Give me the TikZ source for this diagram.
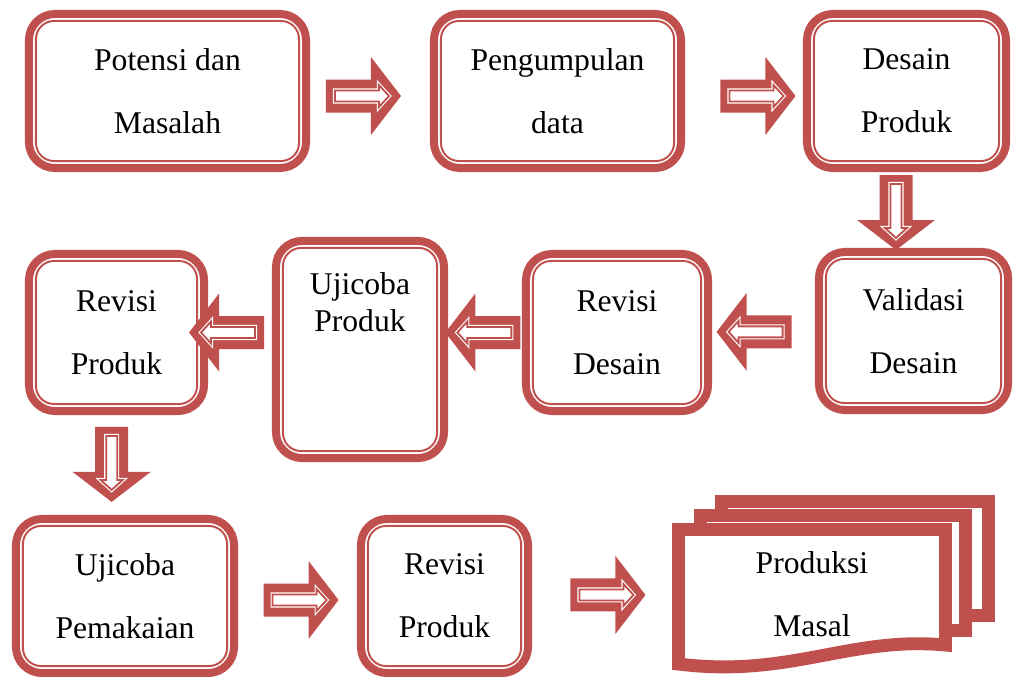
\documentclass[tikz,border=0pt]{standalone}
\usepackage{fontspec}
\setmainfont{Liberation Serif}
\usetikzlibrary{calc}
\definecolor{accred}{HTML}{C0504D}
\tikzset{
  stagebox/.style={draw=accred, line width=5.7pt, outer sep=0pt, rounded corners=0.65cm, align=center,
    font=\fontsize{22.5}{45}\selectfont},
  stageline/.style={draw=accred, line width=1.4pt, rounded corners=0.45cm},
  page/.style={draw=accred, fill=white, line width=9.2pt},
  arrowcore/.style={fill=white, draw=white, line width=0.8pt, double=accred, double distance=1.3pt},
  blockarrow/.pic={
    \fill[accred] (-37,-16.5) -- (8,-16.5) -- (8,-39) -- (38,0) -- (8,39) -- (8,16.5) -- (-37,16.5) -- cycle;
    \draw[arrowcore] (-28,-5.5) -- (16,-5.5) -- (16,-11) -- (26,0) -- (16,11) -- (16,5.5) -- (-28,5.5) -- cycle;
  }
}
\begin{document}
\begin{tikzpicture}[x=0.025cm, y=-0.025cm]
  \useasboundingbox (0,0) rectangle (1015,677);
  % first row
  \node[stagebox, minimum width=6.925cm, minimum height=3.85cm] (pd) at (167.5,91) {Potensi dan\\Masalah};
  \node[stagebox, minimum width=6.175cm, minimum height=3.85cm] (pg) at (557.5,91) {Pengumpulan\\data};
  \node[stagebox, minimum width=4.975cm, minimum height=3.85cm] (dp) at (906.5,91) {Desain\\Produk};
  % second row
  \node[stagebox, minimum width=4.725cm, minimum height=3.95cm] (vd) at (913.5,331) {Validasi\\Desain};
  \node[stagebox, minimum width=4.55cm, minimum height=3.925cm] (rd) at (617,332.5) {Revisi\\Desain};
  \node[stagebox, minimum width=4.2cm, minimum height=5.425cm, font=\fontsize{22.5}{27}\selectfont,
    text height=1.5cm, text depth=2.375cm] (up) at (360,349.5) {Ujicoba\\Produk};
  \node[stagebox, minimum width=4.375cm, minimum height=3.925cm] (rp) at (116.5,332.5) {Revisi\\Produk};
  % third row
  \node[stagebox, minimum width=5.45cm, minimum height=3.85cm] (ua) at (125,596) {Ujicoba\\Pemakaian};
  \node[stagebox, minimum width=4.175cm, minimum height=3.85cm] (rr) at (444.5,596) {Revisi\\Produk};
  % inner lines
  \foreach \b in {pd,pg,dp,vd,rd,up,rp,ua,rr}
    \draw[stageline] ($(\b.north west)+(7,7)$) rectangle ($(\b.south east)+(-7,-7)$);
  % stacked pages
  \draw[page] (721.5,501.5) rectangle (988.5,615.5);
  \draw[page] (700.5,515.5) rectangle (965.5,630.5);
  \draw[page] (678.5,529.5) -- (945.5,529.5) -- (945.5,645) .. controls (850,636) and (790,678) .. (678.5,664) -- cycle;
  \node[align=center, font=\fontsize{22.5}{45}\selectfont, minimum width=6.675cm, outer sep=0pt] (pm) at (812,594) {Produksi\\Masal};
  % block arrows
  \pic at ($(pd.east)!.445!(pg.west)+(0,5)$) {blockarrow};
  \pic at ($(pg.east)!.607!(dp.west)+(0,5)$) {blockarrow};
  \pic[rotate=-90] at ($(dp.south)!.5!(vd.north)+(-14,2)$) {blockarrow};
  \pic[rotate=180] at ($(rd.east)!.42!(vd.west)$) {blockarrow};
  \pic[rotate=180] at ($(up.east |- rd.west)!.48!(rd.west)$) {blockarrow};
  \pic[rotate=180] at ($(rp.east)!.32!(up.west |- rp.east)$) {blockarrow};
  \pic[rotate=-90] at ($(rp.south)!.49!(ua.north)+(-9,0)$) {blockarrow};
  \pic at ($(ua.east)!.524!(rr.west)+(0,4)$) {blockarrow};
  \pic at ($(rr.east)!.528!(pm.west)$) {blockarrow};
\end{tikzpicture}
\end{document}
